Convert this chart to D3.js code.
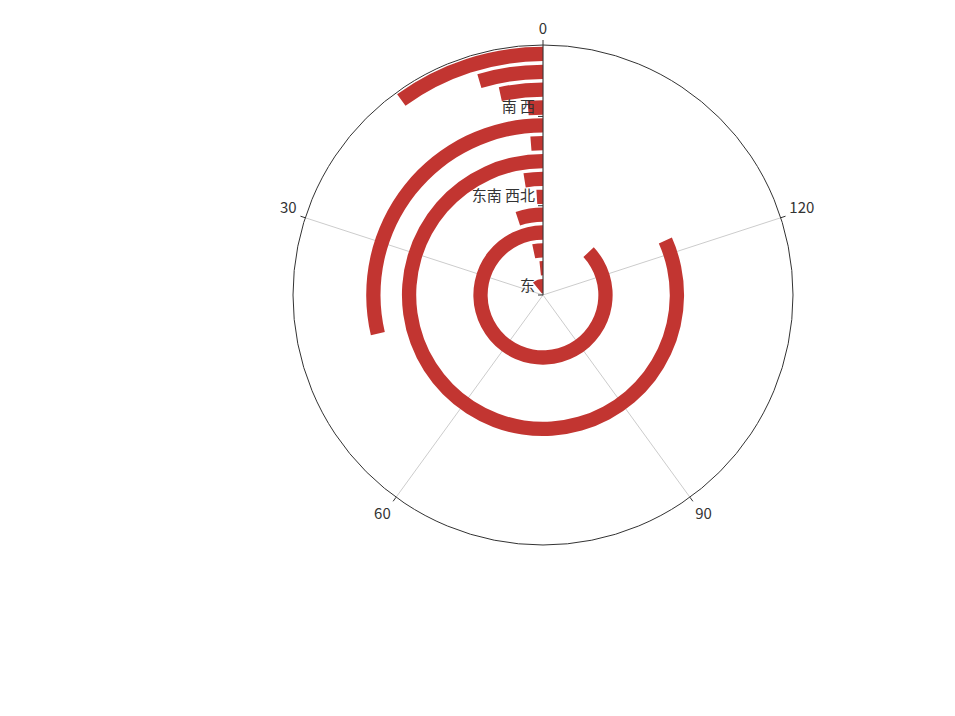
<!DOCTYPE html>
<html><head><meta charset="utf-8">
<script src="https://cdn.jsdelivr.net/npm/d3@7/dist/d3.min.js"></script>
<style>html,body{margin:0;padding:0;background:#fff;}svg{display:block;}</style>
</head><body>
<svg id="c" width="955" height="716"></svg>
<script>
// Radius (category) axis
const categories = ["东", "南", "西", "北", "东北", "东南 西北", "西南", "东 南", "北 西", "东北 西南", "南 西", "东南", "西北", "北 东"];
// Bar values (angle axis, counter-clockwise from top)
const values = [16, 2.5, 5, 130.5, 7.6, 1.5, 3.8, 122.5, 1.9, 43, 1.9, 5, 6.9, 15];
// Angle axis
const angleTicks = [0, 30, 60, 90, 120, 150];
const angleMax = 150;
const labelInterval = 5;

const svg = d3.select("#c");
const cx = 543, cy = 295, R = 250;
const g = svg.append("g").attr("transform", `translate(${cx},${cy})`);
const font = "'Noto Sans CJK SC', 'Noto Sans', sans-serif";
const fs = 15;

const rScale = d3.scaleBand().domain(categories).range([0, R]).paddingInner(0).paddingOuter(0);
const aScale = d3.scaleLinear().domain([0, angleMax]).range([0, -2 * Math.PI]); // counter-clockwise

const bw = rScale.bandwidth();
const barW = bw * 0.8;

// split lines
g.selectAll("line.split").data(angleTicks.slice(0, -1)).join("line")
  .attr("x1", 0).attr("y1", 0)
  .attr("x2", d => R * Math.sin(aScale(d)))
  .attr("y2", d => -R * Math.cos(aScale(d)))
  .attr("stroke", "#ccc").attr("stroke-width", 1);

// bars
const arc = d3.arc();
g.selectAll("path.bar").data(categories).join("path")
  .attr("d", (c, i) => {
    const r0 = rScale(c) + (bw - barW) / 2;
    return arc({innerRadius: r0, outerRadius: r0 + barW, startAngle: 0, endAngle: aScale(values[i])});
  })
  .attr("fill", "#c23531");

// outer circle
g.append("circle").attr("r", R).attr("fill", "none").attr("stroke", "#333").attr("stroke-width", 1);

// angle ticks & labels
angleTicks.slice(0, -1).forEach(t => {
  const a = aScale(t);
  const s = Math.sin(a), c = Math.cos(a);
  g.append("line").attr("x1", R * s).attr("y1", -R * c).attr("x2", (R + 5) * s).attr("y2", -(R + 5) * c)
    .attr("stroke", "#333");
  const lr = R + 9;
  const x = lr * s, y = -lr * c + (c > 0 ? 2 : -3);
  const anchor = Math.abs(s) < 1e-6 ? "middle" : (s < 0 ? "end" : "start");
  const base = Math.abs(c) < 1e-6 ? "central" : (c > 0 ? "text-after-edge" : "text-before-edge");
  g.append("text").attr("x", x).attr("y", y).attr("text-anchor", anchor)
    .attr("dominant-baseline", base)
    .attr("font-family", font).attr("font-size", fs).attr("fill", "#333").text(t);
});

// radius axis line
g.append("line").attr("x1", 0).attr("y1", 0).attr("x2", 0).attr("y2", -R).attr("stroke", "#333");
// radius ticks and labels
categories.forEach((c, i) => {
  if (i % labelInterval !== 0) return;
  const y0 = -rScale(c);
  g.append("line").attr("x1", 0).attr("x2", -5).attr("y1", y0).attr("y2", y0).attr("stroke", "#333");
  g.append("text").attr("x", -8).attr("y", -(rScale(c) + bw / 2) - 2)
    .attr("text-anchor", "end").attr("dominant-baseline", "central")
    .attr("font-family", font).attr("font-size", fs).attr("fill", "#333").text(c);
});
</script>
</body></html>
